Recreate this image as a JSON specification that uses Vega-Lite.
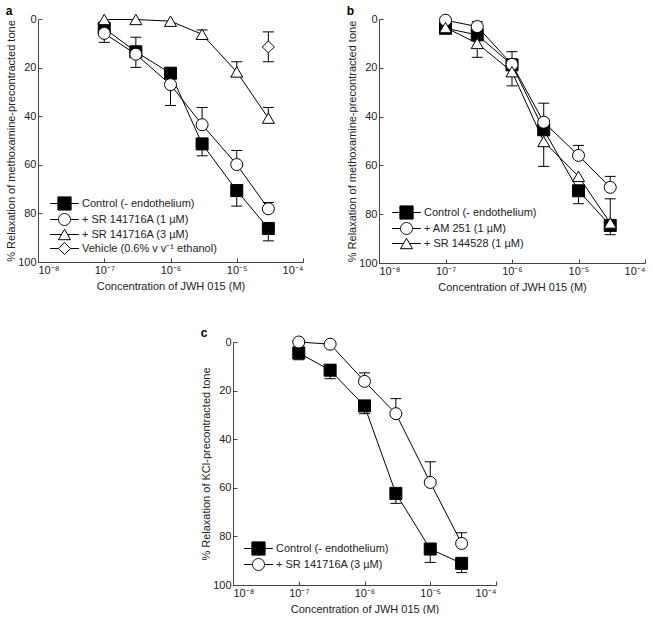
{
  "$schema": "https://vega.github.io/schema/vega-lite/v6.json",
  "background": "white",
  "padding": {"left": 5, "top": 5, "right": 0, "bottom": 0},
  "config": {
    "view": {"stroke": null},
    "font": "Liberation Sans",
    "axis": {
      "grid": false,
      "domainColor": "#444",
      "tickColor": "#444",
      "tickSize": -4,
      "labelPadding": 6,
      "labelFont": "Liberation Sans",
      "labelFontSize": 11,
      "labelColor": "#222",
      "titleFont": "Liberation Sans",
      "titleFontSize": 11,
      "titleFontWeight": "normal",
      "titleColor": "#222"
    },
    "axisX": {"titlePadding": 5},
    "axisY": {"titlePadding": 1},
    "legend": {
      "labelFont": "Liberation Sans",
      "labelFontSize": 11,
      "labelColor": "#222",
      "symbolSize": 144,
      "symbolStrokeWidth": 1,
      "labelOffset": 11,
      "rowPadding": -3.5
    },
    "title": {"anchor": "start", "frame": "bounds", "fontSize": 12, "fontWeight": "bold", "font": "Liberation Sans", "color": "black", "offset": -6}
  },
  "datasets": {
    "a_pts": [
      {"s": "Control (- endothelium)", "x": 1e-7, "y": 3.8},
      {"s": "Control (- endothelium)", "x": 3e-7, "y": 13.5},
      {"s": "Control (- endothelium)", "x": 1e-6, "y": 22.3},
      {"s": "Control (- endothelium)", "x": 3e-6, "y": 51.4},
      {"s": "Control (- endothelium)", "x": 1e-5, "y": 70.6},
      {"s": "Control (- endothelium)", "x": 3e-5, "y": 86.2},
      {"s": "+ SR 141716A (1 µM)", "x": 1e-7, "y": 5.9},
      {"s": "+ SR 141716A (1 µM)", "x": 3e-7, "y": 14.5},
      {"s": "+ SR 141716A (1 µM)", "x": 1e-6, "y": 27},
      {"s": "+ SR 141716A (1 µM)", "x": 3e-6, "y": 43.5},
      {"s": "+ SR 141716A (1 µM)", "x": 1e-5, "y": 59.9},
      {"s": "+ SR 141716A (1 µM)", "x": 3e-5, "y": 78.1},
      {"s": "+ SR 141716A (3 µM)", "x": 1e-7, "y": 0.2},
      {"s": "+ SR 141716A (3 µM)", "x": 3e-7, "y": 0.2},
      {"s": "+ SR 141716A (3 µM)", "x": 1e-6, "y": 0.9},
      {"s": "+ SR 141716A (3 µM)", "x": 3e-6, "y": 6.3},
      {"s": "+ SR 141716A (3 µM)", "x": 1e-5, "y": 21.8},
      {"s": "+ SR 141716A (3 µM)", "x": 3e-5, "y": 40.8},
      {"s": "Vehicle (0.6% v v⁻¹ ethanol)", "x": 3e-5, "y": 11.5}
    ],
    "a_err": [
      {"x": 3e-7, "y": 13.5, "e": 7.5},
      {"x": 3e-6, "y": 51.4, "e": 56.3},
      {"x": 1e-5, "y": 70.6, "e": 77},
      {"x": 3e-5, "y": 86.2, "e": 91.3},
      {"x": 1e-7, "y": 5.9, "e": 9.6},
      {"x": 3e-7, "y": 14.5, "e": 19.9},
      {"x": 1e-6, "y": 27, "e": 35.6},
      {"x": 3e-6, "y": 43.5, "e": 36.4},
      {"x": 1e-5, "y": 59.9, "e": 54.1},
      {"x": 3e-5, "y": 78.1, "e": 75.5},
      {"x": 1e-6, "y": 0.9, "e": 2.5},
      {"x": 3e-6, "y": 6.3, "e": 4.5},
      {"x": 1e-5, "y": 21.8, "e": 17.6},
      {"x": 3e-5, "y": 40.8, "e": 36.4},
      {"x": 3e-5, "y": 11.5, "e": 5.3},
      {"x": 3e-5, "y": 11.5, "e": 17.6}
    ],
    "b_pts": [
      {"s": "Control (- endothelium)", "x": 1e-7, "y": 3.8},
      {"s": "Control (- endothelium)", "x": 3e-7, "y": 6.5},
      {"s": "Control (- endothelium)", "x": 1e-6, "y": 18.8},
      {"s": "Control (- endothelium)", "x": 3e-6, "y": 45.4},
      {"s": "Control (- endothelium)", "x": 1e-5, "y": 70.4},
      {"s": "Control (- endothelium)", "x": 3e-5, "y": 84.6},
      {"s": "+ AM 251 (1 µM)", "x": 1e-7, "y": 0.5},
      {"s": "+ AM 251 (1 µM)", "x": 3e-7, "y": 3.1},
      {"s": "+ AM 251 (1 µM)", "x": 1e-6, "y": 18.6},
      {"s": "+ AM 251 (1 µM)", "x": 3e-6, "y": 42.3},
      {"s": "+ AM 251 (1 µM)", "x": 1e-5, "y": 55.9},
      {"s": "+ AM 251 (1 µM)", "x": 3e-5, "y": 69},
      {"s": "+ SR 144528 (1 µM)", "x": 1e-7, "y": 3.5},
      {"s": "+ SR 144528 (1 µM)", "x": 3e-7, "y": 10},
      {"s": "+ SR 144528 (1 µM)", "x": 1e-6, "y": 21.6},
      {"s": "+ SR 144528 (1 µM)", "x": 3e-6, "y": 50.2},
      {"s": "+ SR 144528 (1 µM)", "x": 1e-5, "y": 64.5},
      {"s": "+ SR 144528 (1 µM)", "x": 3e-5, "y": 83.6}
    ],
    "b_err": [
      {"x": 1e-5, "y": 70.4, "e": 75.7},
      {"x": 3e-5, "y": 84.6, "e": 88.4},
      {"x": 3e-7, "y": 3.1, "e": 1.1},
      {"x": 1e-6, "y": 18.6, "e": 13.4},
      {"x": 3e-6, "y": 42.3, "e": 34.5},
      {"x": 1e-5, "y": 55.9, "e": 51.8},
      {"x": 3e-5, "y": 69, "e": 64.5},
      {"x": 3e-7, "y": 10, "e": 15.7},
      {"x": 1e-6, "y": 21.6, "e": 27.4},
      {"x": 3e-6, "y": 50.2, "e": 60.4},
      {"x": 3e-5, "y": 83.6, "e": 73.7}
    ],
    "c_pts": [
      {"s": "Control (- endothelium)", "x": 1e-7, "y": 4.5},
      {"s": "Control (- endothelium)", "x": 3e-7, "y": 11.6},
      {"s": "Control (- endothelium)", "x": 1e-6, "y": 26.3},
      {"s": "Control (- endothelium)", "x": 3e-6, "y": 62.3},
      {"s": "Control (- endothelium)", "x": 1e-5, "y": 85.2},
      {"s": "Control (- endothelium)", "x": 3e-5, "y": 91.1},
      {"s": "+ SR 141716A (3 µM)", "x": 1e-7, "y": 0},
      {"s": "+ SR 141716A (3 µM)", "x": 3e-7, "y": 0.9},
      {"s": "+ SR 141716A (3 µM)", "x": 1e-6, "y": 16.2},
      {"s": "+ SR 141716A (3 µM)", "x": 3e-6, "y": 29.5},
      {"s": "+ SR 141716A (3 µM)", "x": 1e-5, "y": 57.8},
      {"s": "+ SR 141716A (3 µM)", "x": 3e-5, "y": 82.9}
    ],
    "c_err": [
      {"x": 1e-7, "y": 4.5, "e": 7.3},
      {"x": 3e-7, "y": 11.6, "e": 15.1},
      {"x": 1e-6, "y": 26.3, "e": 29.5},
      {"x": 3e-6, "y": 62.3, "e": 66.4},
      {"x": 1e-5, "y": 85.2, "e": 90.7},
      {"x": 3e-5, "y": 91.1, "e": 94.9},
      {"x": 1e-6, "y": 16.2, "e": 12.7},
      {"x": 3e-6, "y": 29.5, "e": 23.3},
      {"x": 1e-5, "y": 57.8, "e": 49.3},
      {"x": 3e-5, "y": 82.9, "e": 78.5}
    ]
  },
  "resolve": {"scale": {"shape": "independent", "fill": "independent", "x": "independent", "y": "independent"}, "legend": {"shape": "independent", "fill": "independent"}},
  "vconcat": [
    {
      "resolve": {"scale": {"shape": "independent", "fill": "independent", "x": "independent", "y": "independent"}, "legend": {"shape": "independent", "fill": "independent"}},
      "hconcat": [
        {
          "title": "a",
          "width": 265,
          "height": 243,
          "encoding": {
            "x": {"field": "x", "type": "quantitative", "scale": {"type": "log", "domain": [1e-8, 1e-4], "nice": false},
              "axis": {"title": "Concentration of JWH 015 (M)", "values": [1e-8, 1e-7, 1e-6, 1e-5, 1e-4],
                "labelExpr": "datum.value < 5e-8 ? '10⁻⁸' : datum.value < 5e-7 ? '10⁻⁷' : datum.value < 5e-6 ? '10⁻⁶' : datum.value < 5e-5 ? '10⁻⁵' : '10⁻⁴'"}},
            "y": {"field": "y", "type": "quantitative", "scale": {"domain": [0, 100], "reverse": true, "nice": false},
              "axis": {"title": "% Relaxation of methoxamine-precontracted tone", "values": [0, 20, 40, 60, 80, 100]}}
          },
          "resolve": {"scale": {"shape": "independent", "fill": "independent"}, "legend": {"shape": "independent", "fill": "independent"}},
          "layer": [
            {"data": {"name": "a_pts"}, "mark": {"type": "line", "color": "black", "strokeWidth": 1}, "encoding": {"detail": {"field": "s"}}},
            {"data": {"name": "a_err"}, "mark": {"type": "rule", "color": "black", "strokeWidth": 1}, "encoding": {"y2": {"field": "e"}}},
            {"data": {"name": "a_err"}, "mark": {"type": "tick", "orient": "horizontal", "color": "black", "thickness": 1, "size": 11, "opacity": 1}, "encoding": {"y": {"field": "e", "type": "quantitative"}}},
            {"data": {"name": "a_pts"}, "mark": {"type": "point", "size": 144, "stroke": "black", "strokeWidth": 1, "opacity": 1, "filled": true},
              "encoding": {
                "shape": {"field": "s", "type": "nominal", "scale": {"domain": ["Control (- endothelium)", "+ SR 141716A (1 µM)", "+ SR 141716A (3 µM)", "Vehicle (0.6% v v⁻¹ ethanol)"], "range": ["square", "circle", "triangle-up", "diamond"]}, "legend": null},
                "fill": {"field": "s", "type": "nominal", "scale": {"domain": ["Control (- endothelium)", "+ SR 141716A (1 µM)", "+ SR 141716A (3 µM)", "Vehicle (0.6% v v⁻¹ ethanol)"], "range": ["black", "white", "white", "white"]}, "legend": null}
              }},
            {"data": {"name": "a_pts"}, "transform": [{"filter": "false"}], "mark": {"type": "point", "size": 144, "stroke": "black", "strokeWidth": 1, "opacity": 1, "filled": true},
              "encoding": {
                "shape": {"field": "s", "type": "nominal", "scale": {"domain": ["Control (- endothelium)", "+ SR 141716A (1 µM)", "+ SR 141716A (3 µM)", "Vehicle (0.6% v v⁻¹ ethanol)"], "range": ["M-2.4,0H2.4M-1.1,-1.1H1.1V1.1H-1.1Z", "M-2.4,0H-1M1,0H2.4M-1,0A1,1,0,1,1,1,0A1,1,0,1,1,-1,0Z", "M-2.4,0H-0.5M0.5,0H2.4M0,-0.87L1,0.87H-1Z", "M-2.4,0H-1M1,0H2.4M-1,0L0,-1L1,0L0,1Z"]},
                  "legend": {"title": null, "orient": "none", "legendX": 20, "legendY": 178}},
                "fill": {"field": "s", "type": "nominal", "scale": {"domain": ["Control (- endothelium)", "+ SR 141716A (1 µM)", "+ SR 141716A (3 µM)", "Vehicle (0.6% v v⁻¹ ethanol)"], "range": ["black", "white", "white", "white"]},
                  "legend": {"title": null, "orient": "none", "legendX": 20, "legendY": 178}}
              }}
          ]
        },
        {
          "title": "b",
          "width": 266,
          "height": 244,
          "encoding": {
            "x": {"field": "x", "type": "quantitative", "scale": {"type": "log", "domain": [1e-8, 1e-4], "nice": false},
              "axis": {"title": "Concentration of JWH 015 (M)", "values": [1e-8, 1e-7, 1e-6, 1e-5, 1e-4],
                "labelExpr": "datum.value < 5e-8 ? '10⁻⁸' : datum.value < 5e-7 ? '10⁻⁷' : datum.value < 5e-6 ? '10⁻⁶' : datum.value < 5e-5 ? '10⁻⁵' : '10⁻⁴'"}},
            "y": {"field": "y", "type": "quantitative", "scale": {"domain": [0, 100], "reverse": true, "nice": false},
              "axis": {"title": "% Relaxation of methoxamine-precontracted tone", "values": [0, 20, 40, 60, 80, 100]}}
          },
          "resolve": {"scale": {"shape": "independent", "fill": "independent"}, "legend": {"shape": "independent", "fill": "independent"}},
          "layer": [
            {"data": {"name": "b_pts"}, "mark": {"type": "line", "color": "black", "strokeWidth": 1}, "encoding": {"detail": {"field": "s"}}},
            {"data": {"name": "b_err"}, "mark": {"type": "rule", "color": "black", "strokeWidth": 1}, "encoding": {"y2": {"field": "e"}}},
            {"data": {"name": "b_err"}, "mark": {"type": "tick", "orient": "horizontal", "color": "black", "thickness": 1, "size": 11, "opacity": 1}, "encoding": {"y": {"field": "e", "type": "quantitative"}}},
            {"data": {"name": "b_pts"}, "mark": {"type": "point", "size": 144, "stroke": "black", "strokeWidth": 1, "opacity": 1, "filled": true},
              "encoding": {
                "shape": {"field": "s", "type": "nominal", "scale": {"domain": ["Control (- endothelium)", "+ AM 251 (1 µM)", "+ SR 144528 (1 µM)"], "range": ["square", "circle", "triangle-up"]}, "legend": null},
                "fill": {"field": "s", "type": "nominal", "scale": {"domain": ["Control (- endothelium)", "+ AM 251 (1 µM)", "+ SR 144528 (1 µM)"], "range": ["black", "white", "white"]}, "legend": null}
              }},
            {"data": {"name": "b_pts"}, "transform": [{"filter": "false"}], "mark": {"type": "point", "size": 144, "stroke": "black", "strokeWidth": 1, "opacity": 1, "filled": true},
              "encoding": {
                "shape": {"field": "s", "type": "nominal", "scale": {"domain": ["Control (- endothelium)", "+ AM 251 (1 µM)", "+ SR 144528 (1 µM)"], "range": ["M-2.4,0H2.4M-1.1,-1.1H1.1V1.1H-1.1Z", "M-2.4,0H-1M1,0H2.4M-1,0A1,1,0,1,1,1,0A1,1,0,1,1,-1,0Z", "M-2.4,0H-0.5M0.5,0H2.4M0,-0.87L1,0.87H-1Z"]},
                  "legend": {"title": null, "orient": "none", "legendX": 21, "legendY": 187}},
                "fill": {"field": "s", "type": "nominal", "scale": {"domain": ["Control (- endothelium)", "+ AM 251 (1 µM)", "+ SR 144528 (1 µM)"], "range": ["black", "white", "white"]},
                  "legend": {"title": null, "orient": "none", "legendX": 21, "legendY": 187}}
              }}
          ]
        }
      ],
      "spacing": 42
    },
    {
      "resolve": {"scale": {"shape": "independent", "fill": "independent", "x": "independent", "y": "independent"}, "legend": {"shape": "independent", "fill": "independent"}},
      "hconcat": [
        {"width": 142, "height": 10, "data": {"values": [{}]}, "mark": {"type": "point", "opacity": 0}},
        {
          "title": "c",
          "width": 263,
          "height": 243,
          "encoding": {
            "x": {"field": "x", "type": "quantitative", "scale": {"type": "log", "domain": [1e-8, 1e-4], "nice": false},
              "axis": {"title": "Concentration of JWH 015 (M)", "values": [1e-8, 1e-7, 1e-6, 1e-5, 1e-4],
                "labelExpr": "datum.value < 5e-8 ? '10⁻⁸' : datum.value < 5e-7 ? '10⁻⁷' : datum.value < 5e-6 ? '10⁻⁶' : datum.value < 5e-5 ? '10⁻⁵' : '10⁻⁴'"}},
            "y": {"field": "y", "type": "quantitative", "scale": {"domain": [0, 100], "reverse": true, "nice": false},
              "axis": {"title": "% Relaxation of KCl-precontracted tone", "values": [0, 20, 40, 60, 80, 100]}}
          },
          "resolve": {"scale": {"shape": "independent", "fill": "independent"}, "legend": {"shape": "independent", "fill": "independent"}},
          "layer": [
            {"data": {"name": "c_pts"}, "mark": {"type": "line", "color": "black", "strokeWidth": 1}, "encoding": {"detail": {"field": "s"}}},
            {"data": {"name": "c_err"}, "mark": {"type": "rule", "color": "black", "strokeWidth": 1}, "encoding": {"y2": {"field": "e"}}},
            {"data": {"name": "c_err"}, "mark": {"type": "tick", "orient": "horizontal", "color": "black", "thickness": 1, "size": 11, "opacity": 1}, "encoding": {"y": {"field": "e", "type": "quantitative"}}},
            {"data": {"name": "c_pts"}, "mark": {"type": "point", "size": 144, "stroke": "black", "strokeWidth": 1, "opacity": 1, "filled": true},
              "encoding": {
                "shape": {"field": "s", "type": "nominal", "scale": {"domain": ["Control (- endothelium)", "+ SR 141716A (3 µM)"], "range": ["square", "circle"]}, "legend": null},
                "fill": {"field": "s", "type": "nominal", "scale": {"domain": ["Control (- endothelium)", "+ SR 141716A (3 µM)"], "range": ["black", "white"]}, "legend": null}
              }},
            {"data": {"name": "c_pts"}, "transform": [{"filter": "false"}], "mark": {"type": "point", "size": 144, "stroke": "black", "strokeWidth": 1, "opacity": 1, "filled": true},
              "encoding": {
                "shape": {"field": "s", "type": "nominal", "scale": {"domain": ["Control (- endothelium)", "+ SR 141716A (3 µM)"], "range": ["M-2.4,0H2.4M-1.1,-1.1H1.1V1.1H-1.1Z", "M-2.4,0H-1M1,0H2.4M-1,0A1,1,0,1,1,1,0A1,1,0,1,1,-1,0Z"]},
                  "legend": {"title": null, "orient": "none", "legendX": 19, "legendY": 200}},
                "fill": {"field": "s", "type": "nominal", "scale": {"domain": ["Control (- endothelium)", "+ SR 141716A (3 µM)"], "range": ["black", "white"]},
                  "legend": {"title": null, "orient": "none", "legendX": 19, "legendY": 200}}
              }}
          ]
        }
      ],
      "spacing": 20
    }
  ],
  "spacing": 35
}
